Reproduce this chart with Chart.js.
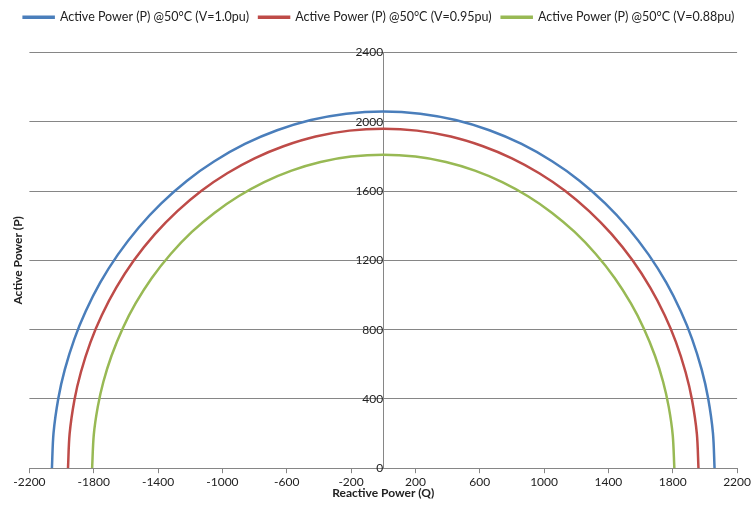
<!DOCTYPE html>
<html>
<head>
<meta charset="utf-8">
<script src="https://cdn.jsdelivr.net/npm/chart.js@4.4.1/dist/chart.umd.min.js"></script>
<style>
  html, body { margin: 0; padding: 0; background: #fff; }
  #wrap { width: 753px; height: 506px; }
</style>
</head>
<body>
<div id="wrap"><canvas id="chart"></canvas></div>
<script>
// values (Q = reactive power, P = active power)
var seriesNames = ['Active Power (P) @50°C (V=1.0pu)', 'Active Power (P) @50°C (V=0.95pu)', 'Active Power (P) @50°C (V=0.88pu)'];

var q100 = [-2060,-2050,-2020,-1980,-1920,-1850,-1760,-1650,-1520,-1380,-1220,-1050,-860,-660,-450,-230,0,230,450,660,860,1050,1220,1380,1520,1650,1760,1850,1920,1980,2020,2050,2060];
var p100 = [0,203,404,569,747,906,1071,1233,1390,1529,1660,1772,1872,1951,2010,2047,2060,2047,2010,1951,1872,1772,1660,1529,1390,1233,1071,906,747,569,404,203,0];

var q095 = [-1960,-1950,-1920,-1880,-1820,-1750,-1660,-1550,-1420,-1280,-1130,-970,-800,-620,-420,-210,0,210,420,620,800,970,1130,1280,1420,1550,1660,1750,1820,1880,1920,1950,1960];
var p095 = [0,198,394,554,728,883,1042,1200,1351,1484,1602,1703,1789,1859,1915,1949,1960,1949,1915,1859,1789,1703,1602,1484,1351,1200,1042,883,728,554,394,198,0];

var q088 = [-1810,-1800,-1775,-1740,-1690,-1620,-1540,-1440,-1320,-1190,-1050,-900,-740,-570,-390,-200,0,200,390,570,740,900,1050,1190,1320,1440,1540,1620,1690,1740,1775,1800,1810];
var p088 = [0,190,354,499,648,807,951,1097,1238,1364,1474,1570,1652,1718,1768,1799,1810,1799,1768,1718,1652,1570,1474,1364,1238,1097,951,807,648,499,354,190,0];

var xTicks = [-2200,-1800,-1400,-1000,-600,-200,200,600,1000,1400,1800,2200];
var yTicks = [0,400,800,1200,1600,2000,2400];

var colors = ['#4a7ebb', '#be4b48', '#98b954'];
var fontFam = 'Lato, "Noto Sans", sans-serif';

function pts(qs, ps) {
    return qs.map(function (q, i) { return { x: q, y: ps[i] }; });
}
function plain(v) { return String(v); }

var allQ = [q100, q095, q088];
var allP = [p100, p095, p088];

// extra gap between the legend and the plot
var legendGap = {
    id: 'legendGap',
    beforeInit: function (chart) {
        var fit = chart.legend.fit;
        chart.legend.fit = function () {
            fit.bind(chart.legend)();
            this.height += 19;
        };
    }
};

var ctx = document.getElementById('chart').getContext('2d');
var myChart = new Chart(ctx, {
    type: 'scatter',
    data: {
        datasets: seriesNames.map(function (name, i) {
            return {
                label: name,
                data: pts(allQ[i], allP[i]),
                showLine: true,
                borderColor: colors[i],
                backgroundColor: colors[i],
                borderWidth: 2.5,
                pointRadius: 0,
                tension: 0.3,
                yAxisID: 'y'
            };
        })
    },
    plugins: [legendGap],
    options: {
        responsive: true,
        maintainAspectRatio: false,
        animation: false,
        layout: { padding: { left: 7, right: 2, top: 1, bottom: 6 } },
        plugins: {
            legend: {
                position: 'top',
                labels: {
                    boxWidth: 30,
                    boxHeight: 1,
                    padding: 10,
                    color: '#222',
                    font: { family: fontFam, size: 12.5 }
                }
            },
            tooltip: { enabled: false }
        },
        scales: {
            x: {
                type: 'linear',
                min: -2200,
                max: 2200,
                afterBuildTicks: function (s) { s.ticks = xTicks.map(function (v) { return { value: v }; }); },
                ticks: { color: '#222', font: { family: fontFam, size: 12 }, padding: 2, maxRotation: 0, callback: plain },
                grid: { drawOnChartArea: false, drawTicks: true, tickLength: 5, color: '#868686' },
                border: { color: '#868686' },
                title: {
                    display: true,
                    text: 'Reactive Power (Q)',
                    color: '#222',
                    font: { family: fontFam, size: 12, weight: 'bold' },
                    padding: { top: -6, bottom: 0 }
                }
            },
            y: {
                type: 'linear',
                position: { x: 0 },
                min: 0,
                max: 2400,
                afterBuildTicks: function (s) { s.ticks = yTicks.map(function (v) { return { value: v }; }); },
                ticks: { color: '#222', font: { family: fontFam, size: 12 }, padding: 6, callback: plain },
                grid: { color: '#868686', drawTicks: false },
                border: { color: '#868686' }
            },
            yTitle: {
                type: 'linear',
                position: 'left',
                display: true,
                ticks: { display: false },
                grid: { display: false, drawTicks: false },
                border: { display: false },
                title: {
                    display: true,
                    text: 'Active Power (P)',
                    color: '#222',
                    font: { family: fontFam, size: 12, weight: 'bold' },
                    padding: { top: 4, bottom: 4 }
                }
            }
        }
    }
});
</script>
</body>
</html>
